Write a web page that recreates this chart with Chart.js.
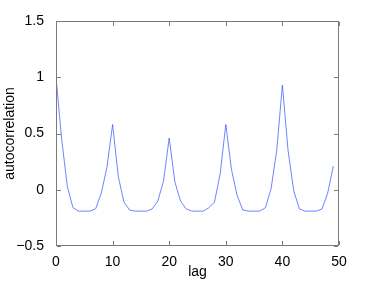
<!DOCTYPE html>
<html>
<head>
<meta charset="UTF-8">
<script src="https://cdn.jsdelivr.net/npm/chart.js"></script>
<style>
  body { margin: 0; background: #fff; }
  #wrap { position: relative; width: 374px; height: 281px; }
</style>
</head>
<body>
<div id="wrap"><canvas id="grafico"></canvas></div>
<script>
// lag 0..49
const lags = Array.from({length: 50}, (_, i) => i);
const autocorr = [
  1.00, 0.45, 0.03, -0.16, -0.19, -0.19, -0.19, -0.17, -0.03, 0.20,
  0.58, 0.12, -0.11, -0.18, -0.19, -0.19, -0.19, -0.17, -0.10, 0.08,
  0.46, 0.07, -0.10, -0.17, -0.19, -0.19, -0.19, -0.16, -0.11, 0.14,
  0.58, 0.18, -0.05, -0.18, -0.19, -0.19, -0.19, -0.16, 0.01, 0.35,
  0.93, 0.35, -0.01, -0.17, -0.19, -0.19, -0.19, -0.17, -0.03, 0.21
];
const xTicks = [0, 10, 20, 30, 40, 50];
const yTicks = [-0.5, 0, 0.5, 1, 1.5];

const fonte = "'Liberation Sans', Arial, sans-serif";

// caixa + ticks para dentro, estilo matlab
const ticksDentro = {
  id: 'ticksDentro',
  afterDraw(chart) {
    const {ctx, chartArea: a, scales: {x, y}} = chart;
    const l = Math.round(a.left), r = Math.round(a.right) - 1;
    const t = Math.round(a.top), b = Math.round(a.bottom) - 1;
    ctx.save();
    ctx.fillStyle = '#7a7a7a';
    // caixa
    ctx.fillRect(l, t, r - l + 1, 1);
    ctx.fillRect(l, b, r - l + 1, 1);
    ctx.fillRect(l, t, 1, b - t + 1);
    ctx.fillRect(r, t, 1, b - t + 1);
    // ticks
    xTicks.forEach(v => {
      const px = Math.round(x.getPixelForValue(v));
      ctx.fillRect(px, b - 4, 1, 4);
      ctx.fillRect(px, t + 1, 1, 4);
    });
    yTicks.forEach(v => {
      const py = Math.round(y.getPixelForValue(v));
      ctx.fillRect(l + 1, py, 4, 1);
      ctx.fillRect(r - 4, py, 4, 1);
    });
    ctx.restore();
  }
};

new Chart(document.getElementById('grafico'), {
  type: 'line',
  data: {
    datasets: [{
      data: lags.map((l, i) => ({x: l, y: autocorr[i]})),
      borderColor: 'rgba(50,80,255,0.7)',
      borderWidth: 1,
      pointRadius: 0,
      tension: 0
    }]
  },
  options: {
    responsive: true,
    maintainAspectRatio: false,
    animation: false,
    layout: { padding: { left: 0, top: 21, right: 35, bottom: 0 } },
    plugins: { legend: { display: false }, tooltip: { enabled: false } },
    scales: {
      x: {
        type: 'linear', min: 0, max: 50,
        afterBuildTicks: s => { s.ticks = xTicks.map(v => ({value: v})); },
        afterFit: s => { s.height = 35; },
        grid: { display: false },
        border: { display: false },
        ticks: { color: '#000', font: { family: fonte, size: 14 }, padding: 0, maxRotation: 0 },
        title: { display: true, text: 'lag', color: '#000', font: { family: fonte, size: 14 }, padding: 0 }
      },
      y: {
        type: 'linear', min: -0.5, max: 1.5,
        afterBuildTicks: s => { s.ticks = yTicks.map(v => ({value: v})); },
        afterFit: s => { s.width = 56; },
        grid: { display: false },
        border: { display: false },
        ticks: {
          color: '#000', font: { family: fonte, size: 14 }, padding: 4,
          callback: v => String(v).replace('-', '\u2212')
        },
        title: { display: true, text: 'autocorrelation', color: '#000', font: { family: fonte, size: 14 }, padding: { top: 2, bottom: 0 } }
      }
    }
  },
  plugins: [ticksDentro]
});
</script>
</body>
</html>
